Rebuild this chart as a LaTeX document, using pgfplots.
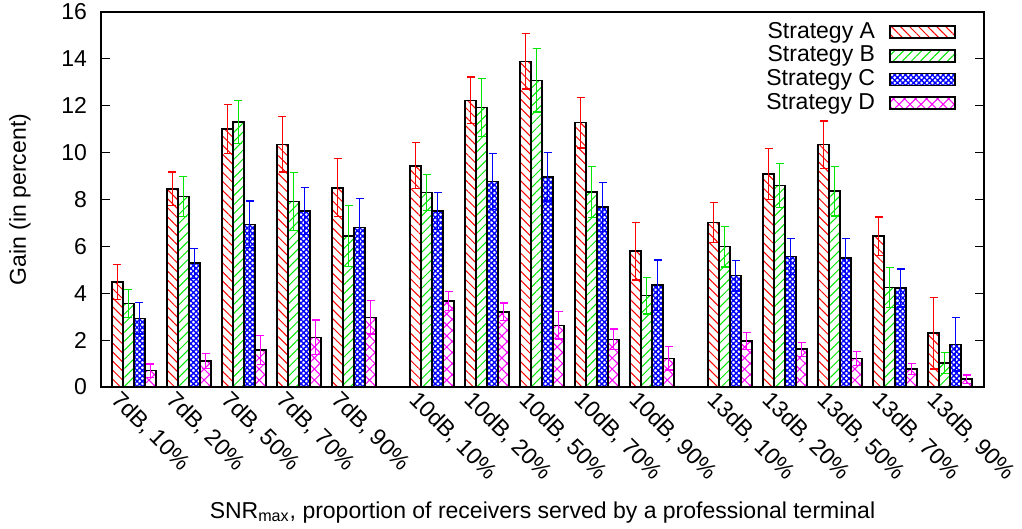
\documentclass[border=0pt]{standalone}
\usepackage{fontspec}
\setmainfont{Liberation Sans}
\usepackage{pgfplots}
\pgfplotsset{compat=1.18}
\usepackage{pgfplotstable}
\usetikzlibrary{patterns.meta}
\definecolor{cA}{RGB}{255,0,0}
\definecolor{cB}{RGB}{0,230,0}
\definecolor{cC}{RGB}{0,0,255}
\definecolor{cD}{RGB}{255,0,255}
\pgfplotstableread{
xA xB xC xD A Ae B Be C Ce D De
0.3 0.5 0.7 0.9 4.49 0.75 3.57 0.60 2.93 0.67 0.70 0.28
1.3 1.5 1.7 1.9 8.45 0.72 8.12 0.85 5.28 0.64 1.11 0.33
2.3 2.5 2.7 2.9 11.00 1.04 11.31 0.92 6.94 1.00 1.58 0.62
3.3 3.5 3.7 3.9 10.35 1.18 7.91 1.23 7.50 1.00 2.12 0.74
4.3 4.5 4.7 4.9 8.50 1.24 6.44 1.29 6.80 1.23 2.97 0.71
5.72 5.92 6.12 6.32 9.44 0.98 8.29 0.77 7.50 0.79 3.67 0.40
6.72 6.92 7.12 7.32 12.23 1.00 11.92 1.23 8.76 1.19 3.21 0.37
7.72 7.92 8.12 8.32 13.89 1.18 13.08 1.35 8.97 1.03 2.63 0.58
8.72 8.92 9.12 9.32 11.28 1.08 8.33 1.09 7.67 1.05 2.03 0.44
9.72 9.92 10.12 10.32 5.79 1.23 3.90 0.78 4.34 1.08 1.22 0.50
11.14 11.34 11.54 11.74 7.02 0.84 5.99 0.87 4.75 0.65 1.96 0.36
12.14 12.34 12.54 12.74 9.09 1.08 8.60 0.95 5.57 0.78 1.61 0.30
13.14 13.34 13.54 13.74 10.34 1.01 8.36 1.06 5.50 0.84 1.21 0.30
14.14 14.34 14.54 14.74 6.43 0.82 4.25 0.85 4.22 0.81 0.77 0.24
15.14 15.34 15.54 15.74 2.30 1.53 1.02 0.44 1.82 1.14 0.33 0.18
}\data
\begin{document}
\fontsize{11.5}{13.5}\selectfont
\begin{tikzpicture}
\begin{axis}[
  scale only axis, width=441.5pt, height=187.5pt,
  xmin=0, xmax=16.0545, ymin=0, ymax=16,
  ytick={0,2,4,6,8,10,12,14,16},
  xtick={0.6,1.6,2.6,3.6,4.6,6.02,7.02,8.02,9.02,10.02,11.44,12.44,13.44,14.44,15.44},
  xticklabels={{7dB, 10\%},{7dB, 20\%},{7dB, 50\%},{7dB, 70\%},{7dB, 90\%},
    {10dB, 10\%},{10dB, 20\%},{10dB, 50\%},{10dB, 70\%},{10dB, 90\%},
    {13dB, 10\%},{13dB, 20\%},{13dB, 50\%},{13dB, 70\%},{13dB, 90\%}},
  xtick style={draw=none},
  ytick pos=both,
  tick align=inside,
  major tick length=4.5pt,
  tick style={black, line width=0.6pt},
  axis line style={line width=0.7pt},
  /pgf/number format/assume math mode=true,
  tick label style={font=\fontsize{11.5}{13.5}\selectfont},
  xticklabel style={xshift=-6pt, yshift=2pt, rotate=-45, anchor=north west, inner sep=2pt},
  yticklabel style={xshift=-3pt},
  ylabel={Gain (in percent)},
  ylabel style={at={(axis description cs:0,0.5)}, anchor=center, yshift=40.5pt, font=\fontsize{11.5}{13.5}\selectfont},
  xlabel={SNR\textsubscript{max}, proportion of receivers served by a professional terminal},
  xlabel style={at={(axis description cs:0.5,0)}, anchor=base, yshift=-65.5pt, font=\fontsize{11.5}{13.5}\selectfont},
  legend plot pos=right,
  legend cell align=right,
  legend style={at={(rel axis cs:1,1)}, anchor=north east, xshift=-11pt, yshift=-2pt,
    draw=none, fill=none, font=\fontsize{11.5}{13.5}\selectfont, row sep=0pt,
    /tikz/every odd column/.append style={column sep=5pt},
    nodes={inner ysep=0.75pt, text height=8.2pt, text depth=2.1pt}},
  legend image code/.code={\draw[#1] (0pt,-3pt) rectangle (32.5pt,3pt);},
]
\addplot[ybar, bar width=0.2, bar shift=0pt, draw=black, line width=0.8pt,
  pattern={Lines[angle=-45,distance=3.2pt,line width=0.5pt]}, pattern color=cA,
  error bars/.cd, y dir=both, y explicit,
  error bar style={cA, line width=0.65pt},
  error mark options={rotate=90, cA, mark size=2pt, line width=0.65pt}]
  table[x=xA, y=A, y error=Ae]{\data};
\addlegendentry{Strategy A}
\addplot[ybar, bar width=0.2, bar shift=0pt, draw=black, line width=0.8pt,
  pattern={Lines[angle=45,distance=3.2pt,line width=0.5pt]}, pattern color=cB,
  error bars/.cd, y dir=both, y explicit,
  error bar style={cB, line width=0.65pt},
  error mark options={rotate=90, cB, mark size=2pt, line width=0.65pt}]
  table[x=xB, y=B, y error=Be]{\data};
\addlegendentry{Strategy B}
\addplot[ybar, bar width=0.2, bar shift=0pt, draw=black, line width=0.8pt,
  pattern={Hatch[angle=45,distance=1.9pt,line width=0.7pt]}, pattern color=cC,
  error bars/.cd, y dir=both, y explicit,
  error bar style={cC, line width=0.65pt},
  error mark options={rotate=90, cC, mark size=2pt, line width=0.65pt}]
  table[x=xC, y=C, y error=Ce]{\data};
\addlegendentry{Strategy C}
\addplot[ybar, bar width=0.2, bar shift=0pt, draw=black, line width=0.8pt,
  pattern={Hatch[angle=45,distance=3.9pt,line width=0.5pt]}, pattern color=cD,
  error bars/.cd, y dir=both, y explicit,
  error bar style={cD, line width=0.65pt},
  error mark options={rotate=90, cD, mark size=2pt, line width=0.65pt}]
  table[x=xD, y=D, y error=De]{\data};
\addlegendentry{Strategy D}
\end{axis}
\pgfresetboundingbox
\path ([xshift=-50.5pt,yshift=-71pt]current axis.south west) rectangle ([xshift=19pt,yshift=6pt]current axis.north east);
\end{tikzpicture}
\end{document}
